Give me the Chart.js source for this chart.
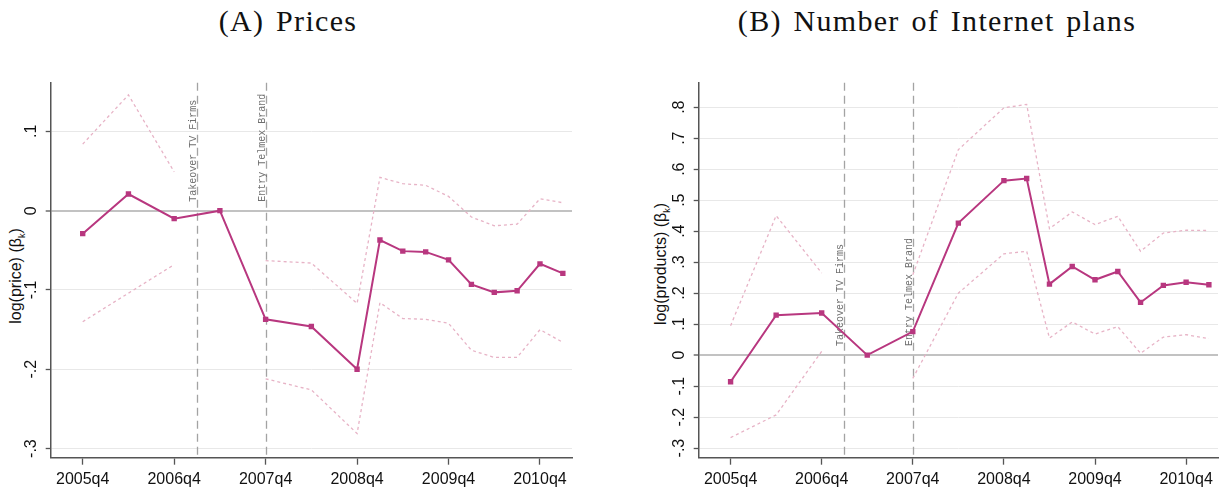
<!DOCTYPE html>
<html>
<head>
<meta charset="utf-8">
<script src="https://cdn.jsdelivr.net/npm/chart.js@4"></script>
<style>
  body { margin: 0; background: #fff; width: 1225px; height: 491px; position: relative; overflow: hidden; }
  .panel { position: absolute; top: 0; height: 491px; }
  .title { position: absolute; top: 2px; width: 600px; text-align: center; font: 30px "Liberation Serif", serif;
           letter-spacing: 1.3px; word-spacing: 3px; color: #111; line-height: 38px; }
  .ytitle { position: absolute; width: 200px; text-align: center; font: 16px "Liberation Sans", Arial, sans-serif;
            color: #111; transform: translate(-50%, -50%) rotate(-90deg); line-height: 18px; }
  .ytitle sub { font-size: 9px; }
</style>
</head>
<body>
<div class="title" style="left:-12px">(A) Prices</div>
<div class="title" style="left:637px">(B) Number of Internet plans</div>
<div class="ytitle" style="left:19px; top:276px">log(price) (β<sub>k</sub>)</div>
<div class="ytitle" style="left:664px; top:264px">log(products) (β<sub>k</sub>)</div>
<div class="panel" style="left:0; width:612px"><canvas id="chartA" width="612" height="491"></canvas></div>
<div class="panel" style="left:612px; width:613px"><canvas id="chartB" width="613" height="491"></canvas></div>
<script>
const quarters = ["2005q4", "2006q2", "2006q4", "2007q2", "2007q4", "2008q2", "2008q4", "2009q1",
                  "2009q2", "2009q3", "2009q4", "2010q1", "2010q2", "2010q3", "2010q4", "2011q1"];

const priceCoef  = [-0.029, 0.021, -0.010, 0, -0.137, -0.146, -0.200, -0.037, -0.051, -0.052, -0.062, -0.093, -0.103, -0.101, -0.067, -0.079];
const priceUpper = [0.084, 0.146, 0.049, null, -0.063, -0.066, -0.117, 0.042, 0.034, 0.032, 0.018, -0.008, -0.019, -0.017, 0.015, 0.010];
const priceLower = [-0.140, -0.104, -0.068, null, -0.212, -0.226, -0.281, -0.116, -0.136, -0.137, -0.142, -0.176, -0.185, -0.185, -0.150, -0.166];

const prodCoef  = [-0.086, 0.129, 0.136, 0, 0.076, 0.426, 0.563, 0.570, 0.229, 0.286, 0.243, 0.270, 0.170, 0.225, 0.235, 0.227];
const prodUpper = [0.095, 0.450, 0.265, null, 0.259, 0.663, 0.798, 0.809, 0.408, 0.462, 0.421, 0.448, 0.335, 0.394, 0.403, 0.402];
const prodLower = [-0.266, -0.193, 0.012, null, -0.075, 0.200, 0.327, 0.335, 0.055, 0.107, 0.068, 0.092, 0.006, 0.058, 0.066, 0.053];

const xTickLabels = ["2005q4", "2006q4", "2007q4", "2008q4", "2009q4", "2010q4"];
const yTicksA = [-0.3, -0.2, -0.1, 0, 0.1];
const yTickLabelsA = ["-.3", "-.2", "-.1", "0", ".1"];
const yTicksB = [-0.3, -0.2, -0.1, 0, 0.1, 0.2, 0.3, 0.4, 0.5, 0.6, 0.7, 0.8];
const yTickLabelsB = ["-.3", "-.2", "-.1", "0", ".1", ".2", ".3", ".4", ".5", ".6", ".7", ".8"];

const events = ["2007q1", "2007q4"];
const eventLabels = ["Takeover TV Firms", "Entry Telmex Brand"];

// quarter string -> number of quarters since 2005q4
function qIndex(q) {
    const year = parseInt(q.slice(0, 4));
    const n = parseInt(q.slice(5));
    return (year - 2005) * 4 + (n - 4);
}

const MAIN = "#b8377f";
const BAND = "#e7b3c6";

function series(values) {
    return values.map((v, i) => ({ x: qIndex(quarters[i]), y: v }));
}

const eventPlugin = {
    id: "events",
    beforeDatasetsDraw(chart) {
        const { ctx, chartArea, scales } = chart;
        const zero = scales.y.getPixelForValue(0);
        events.forEach((q, i) => {
            const x = Math.round(scales.x.getPixelForValue(qIndex(q))) + 0.5;
            ctx.save();
            ctx.strokeStyle = "#a3a3a3";
            ctx.lineWidth = 1.3;
            ctx.setLineDash([8, 5]);
            ctx.beginPath();
            ctx.moveTo(x, chartArea.top);
            ctx.lineTo(x, chartArea.bottom);
            ctx.stroke();
            ctx.translate(x - 2, zero - 9);
            ctx.rotate(-Math.PI / 2);
            ctx.font = '10px "Liberation Mono", monospace';
            ctx.fillStyle = "#6f6f6f";
            ctx.textAlign = "left";
            ctx.textBaseline = "alphabetic";
            ctx.fillText(eventLabels[i], 0, 0);
            ctx.restore();
        });
    }
};

const yLabelPlugin = {
    id: "ylabels",
    afterDraw(chart) {
        const { ctx, scales } = chart;
        const s = scales.y;
        const labels = chart.options.yLabels;
        ctx.save();
        ctx.font = '16px "Liberation Sans", Arial, sans-serif';
        ctx.fillStyle = "#111";
        ctx.textAlign = "center";
        ctx.textBaseline = "middle";
        s.ticks.forEach((t, i) => {
            const y = s.getPixelForValue(t.value);
            ctx.save();
            ctx.translate(s.right - 19, y);
            ctx.rotate(-Math.PI / 2);
            ctx.fillText(labels[i], 0, 0);
            ctx.restore();
        });
        ctx.restore();
    }
};

function makeChart(id, coef, upper, lower, yMin, yMax, yTicks, yLabels, padLeft, padRight) {
    return new Chart(document.getElementById(id), {
        type: "line",
        data: {
            datasets: [
                { data: series(coef), borderColor: MAIN, backgroundColor: MAIN, borderWidth: 2,
                  pointStyle: "rect", pointRadius: 3.8, pointBorderWidth: 0, tension: 0, order: 0 },
                { data: series(upper), borderColor: BAND, borderWidth: 1.3, borderDash: [3, 3],
                  pointRadius: 0, spanGaps: false, order: 1 },
                { data: series(lower), borderColor: BAND, borderWidth: 1.3, borderDash: [3, 3],
                  pointRadius: 0, spanGaps: false, order: 1 }
            ]
        },
        options: {
            responsive: false,
            animation: false,
            devicePixelRatio: 1,
            yLabels: yLabels,
            layout: { padding: { top: 82.7, left: padLeft, right: padRight, bottom: 0 } },
            plugins: { legend: { display: false }, tooltip: { enabled: false } },
            scales: {
                x: {
                    type: "linear",
                    min: -1.4,
                    max: 21.4,
                    afterBuildTicks: s => { s.ticks = xTickLabels.map(q => ({ value: qIndex(q) })); },
                    afterFit: s => { s.height = 33.3; },
                    ticks: {
                        autoSkip: false, maxRotation: 0, padding: 5,
                        color: "#111",
                        font: { family: "'Liberation Sans', Arial, sans-serif", size: 16 },
                        callback: v => xTickLabels.find(q => qIndex(q) === v)
                    },
                    grid: { drawOnChartArea: false, drawTicks: true, tickLength: 7, tickColor: "#555", tickWidth: 1.3 },
                    border: { display: true, color: "#555", width: 1.5 }
                },
                y: {
                    min: yMin,
                    max: yMax,
                    afterBuildTicks: s => { s.ticks = yTicks.map(v => ({ value: v })); },
                    afterFit: s => { s.width = 50.7; },
                    ticks: { display: false },
                    grid: {
                        color: c => (c.tick && c.tick.value === 0) ? "#c2c2c2" : "#e8e8e8",
                        lineWidth: c => (c.tick && c.tick.value === 0) ? 2 : 1,
                        drawTicks: true, tickLength: 5, tickColor: "#555", tickWidth: 1.3
                    },
                    border: { display: true, color: "#555", width: 1.5 }
                }
            }
        },
        plugins: [eventPlugin, yLabelPlugin]
    });
}

makeChart("chartA", priceCoef, priceUpper, priceLower, -0.3115, 0.1614, yTicksA, yTickLabelsA, 0, 40);
makeChart("chartB", prodCoef, prodUpper, prodLower, -0.331, 0.879, yTicksB, yTickLabelsB, 36, 7);
</script>
</body>
</html>
